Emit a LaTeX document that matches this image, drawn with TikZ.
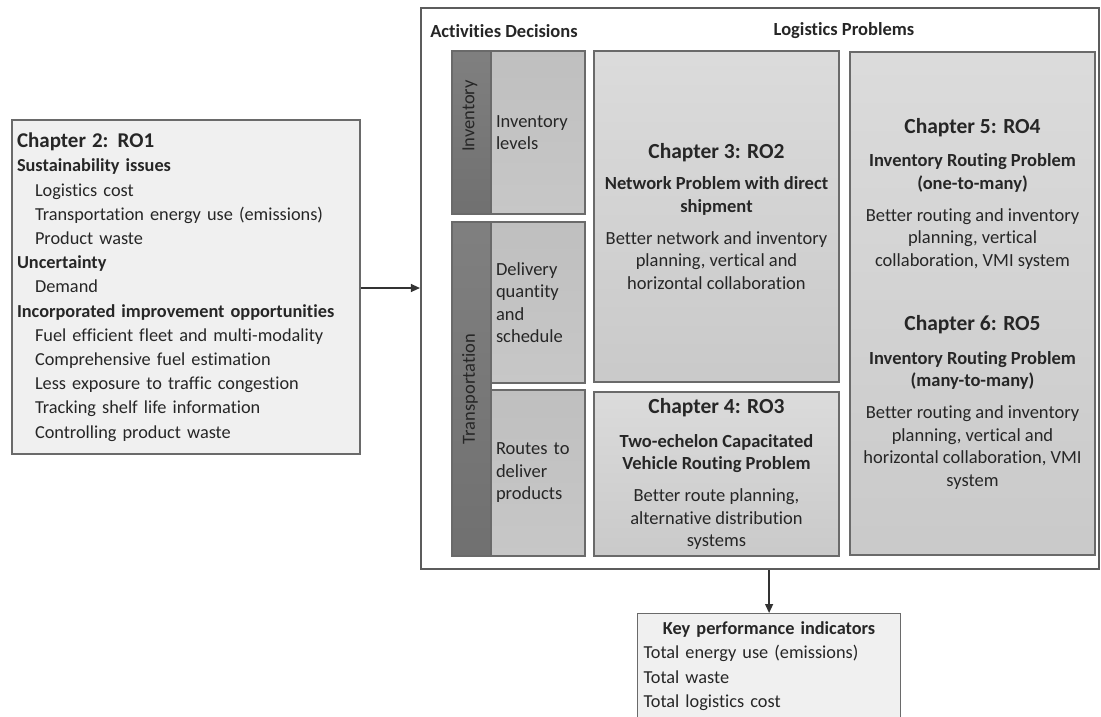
\documentclass[tikz,border=0pt]{standalone}
\usepackage{fontspec}
\setmainfont{Carlito}[Ligatures={TeX,NoCommon}]
\usetikzlibrary{arrows.meta}

\definecolor{edgegray}{HTML}{6A6A6A}
\definecolor{framegray}{HTML}{5C5C5C}
\definecolor{paleface}{HTML}{F0F0F0}
\definecolor{inktext}{HTML}{262626}

\newcommand{\chapfont}{\fontsize{21.5}{22.5}\selectfont\bfseries}
\newcommand{\bodyfont}{\fontsize{18.5}{22.5}\selectfont}
\newcommand{\listfont}{\fontsize{18.3}{24.2}\selectfont}
\newcommand{\listchapfont}{\fontsize{21}{24.2}\selectfont\bfseries}

\tikzset{
  every node/.style={text=inktext},
  panel/.style={draw=edgegray, line width=1.2pt, inner sep=0pt},
  textbox/.style={panel, fill=paleface},
  probbox/.style={panel, top color=black!14, bottom color=black!21,
    align=center, font=\bodyfont, inner sep=4pt},
  strip/.style={panel, top color=black!50, bottom color=black!56},
  decbox/.style={panel, top color=black!25, bottom color=black!22,
    align=left, font=\bodyfont, text width=84pt, inner xsep=5pt},
  striplabel/.style={rotate=90, font=\fontsize{18.5}{20}\selectfont},
  colhead/.style={font=\fontsize{18.5}{20}\selectfont\bfseries},
  link/.style={draw=black!80, line width=1.3pt, -{Triangle[length=9pt,width=8pt]}}
}

\begin{document}
\begin{tikzpicture}[x=1pt,y=-1pt]
\useasboundingbox (0,0) rectangle (1101,716);

% research objective 1 box
\node[textbox, minimum width=348pt, minimum height=334pt, text width=338pt,
      inner xsep=5pt, align=left, font=\listfont]
  (ro1) at (186,287) {%
  {\listchapfont Chapter 2: RO1}\\
  \textbf{Sustainability issues}\\
  \hspace*{18pt}Logistics cost\\
  \hspace*{18pt}Transportation energy use (emissions)\\
  \hspace*{18pt}Product waste\\
  \textbf{Uncertainty}\\
  \hspace*{18pt}Demand\\
  \textbf{Incorporated improvement opportunities}\\
  \hspace*{18pt}Fuel efficient fleet and multi-modality\\
  \hspace*{18pt}Comprehensive fuel estimation\\
  \hspace*{18pt}Less exposure to traffic congestion\\
  \hspace*{18pt}Tracking shelf life information\\
  \hspace*{18pt}Controlling product waste};

% frame around decisions and problems
\node[draw=framegray, line width=2.2pt, minimum width=678pt, minimum height=561pt,
      inner sep=0pt] (frame) at (760,288.5) {};

\node[colhead] (hdec) at (504,31) {Activities Decisions};
\node[colhead] (hprob) at (844,31) {Logistics Problems};

% activity strips
\node[strip, minimum width=39pt, minimum height=163pt] (sinv) at (471.5,132.5) {};
\node[strip, minimum width=39pt, minimum height=334pt] (str) at (471.5,389) {};
\node[striplabel] (tinv) at (470,116) {Inventory};
\node[striplabel] (ttr) at (470,389) {Transportation};

% decisions
\node[decbox, minimum width=94pt, minimum height=163pt] (dinv) at (538,132.5)
  {Inventory\\levels};
\node[decbox, minimum width=94pt, minimum height=161pt] (ddel) at (538,302.5)
  {Delivery\\quantity\\and\\schedule};
\node[decbox, minimum width=94pt, minimum height=166pt] (drou) at (538,473)
  {Routes to\\deliver\\products};

% logistics problems
\node[probbox, minimum width=245pt, minimum height=331pt] (c3) at (716.5,216.5) {%
  {\chapfont Chapter 3: RO2}\\[9pt]
  \textbf{Network Problem with direct}\\
  \textbf{shipment}\\[9.5pt]
  Better network and inventory\\
  planning, vertical and\\
  horizontal collaboration};

\node[probbox, minimum width=245pt, minimum height=164pt] (c4) at (716.5,474) {%
  {\chapfont Chapter 4: RO3}\\[11pt]
  \textbf{Two-echelon Capacitated}\\
  \textbf{Vehicle Routing Problem}\\[9.5pt]
  Better route planning,\\
  alternative distribution\\
  systems};

\node[probbox, minimum width=245pt, minimum height=503pt] (c5) at (972.5,303.5) {%
  {\chapfont Chapter 5: RO4}\\[11pt]
  \textbf{Inventory Routing Problem}\\
  \textbf{(one-to-many)}\\[9.5pt]
  Better routing and inventory\\
  planning, vertical\\
  collaboration, VMI system\\[42pt]
  {\chapfont Chapter 6: RO5}\\[11pt]
  \textbf{Inventory Routing Problem}\\
  \textbf{(many-to-many)}\\[9.5pt]
  Better routing and inventory\\
  planning, vertical and\\
  horizontal collaboration, VMI\\
  system};

% key performance indicators
\node[textbox, minimum width=261pt, minimum height=105pt, anchor=north west,
      text width=251pt, inner xsep=6pt, inner ysep=5pt, align=left, font=\listfont]
  (kpi) at (637,613) {%
  \centering\textbf{Key performance indicators}\par\raggedright
  Total energy use (emissions)\\
  Total waste\\
  Total logistics cost};

% connectors
\draw[link] (ro1.east |- 0,288) -- (frame.west |- 0,288);
\draw[link] (frame.south -| kpi.north) -- (kpi.north);
\end{tikzpicture}
\end{document}
